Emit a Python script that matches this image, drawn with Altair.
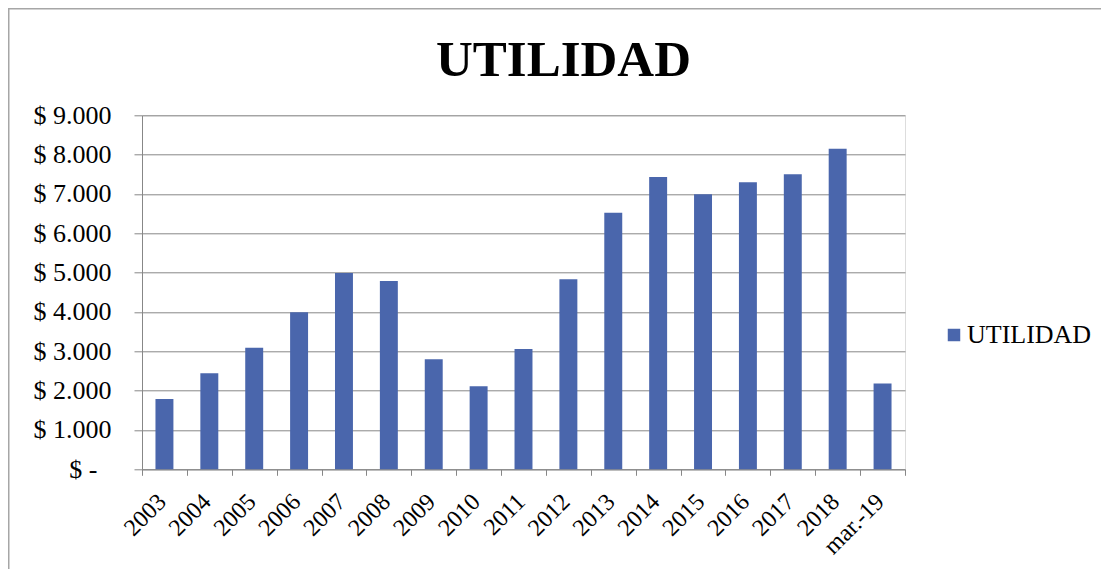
import altair as alt
import pandas as pd

categories = ["2003", "2004", "2005", "2006", "2007", "2008", "2009", "2010", "2011",
              "2012", "2013", "2014", "2015", "2016", "2017", "2018", "mar.-19"]
values = [1790, 2440, 3090, 3990, 4990, 4790, 2800, 2110, 3060,
          4830, 6520, 7430, 6990, 7300, 7500, 8150, 2180]
series_name = "UTILIDAD"
y_ticks = [0, 1000, 2000, 3000, 4000, 5000, 6000, 7000, 8000, 9000]

df = pd.DataFrame({"cat": categories, "val": values, "serie": [series_name] * len(categories)})
legend_df = pd.DataFrame({"serie": [series_name]})

FONT = "Liberation Serif"
BLUE = "#4a66ac"
GRID = "#878787"

W, H = 763, 354
PAD_L, PAD_T = 134, 107.3

color_scale = alt.Scale(domain=[series_name], range=[BLUE])

bars = alt.Chart(df).mark_bar(width=alt.RelativeBandSize(0.4)).encode(
    x=alt.X("cat:N", sort=categories, title=None,
            scale=alt.Scale(paddingInner=0, paddingOuter=0),
            axis=alt.Axis(labelAngle=-45, labelAlign="right", labelBaseline="top",
                          labelFont=FONT, labelFontSize=24, labelColor="black",
                          labelPadding=14, labelOffset=-11, tickBand="extent", tickSize=6,
                          tickColor=GRID, domainColor=GRID, grid=False,
                          labelOverlap=False)),
    y=alt.Y("val:Q", title=None,
            scale=alt.Scale(domain=[0, 9000], nice=False),
            axis=alt.Axis(values=y_ticks, tickSize=8, tickColor=GRID, domainColor=GRID,
                          gridColor=GRID, gridWidth=1, labelFont=FONT, labelFontSize=26,
                          labelColor="black",
                          labelPadding={"condition": {"test": "datum.value === 0", "value": 37}, "value": 23},
                          labelExpr="datum.value == 0 ? '$ -' : '$ ' + replace(format(datum.value, ',.0f'), ',', '.')")),
    color=alt.Color("serie:N", scale=color_scale, legend=None),
)

# legend (symbol + label) built from the series name
legend_sym = alt.Chart(legend_df).mark_square(size=156, opacity=1).encode(
    x=alt.value(812), y=alt.value(219.7),
    color=alt.Color("serie:N", scale=color_scale, legend=None),
)
legend_txt = alt.Chart(legend_df).mark_text(
    font=FONT, fontSize=26, color="black", align="left", baseline="alphabetic"
).encode(x=alt.value(825), y=alt.value(227.6), text="serie:N")

frame = alt.Chart(pd.DataFrame({"f": [0]})).mark_rect(
    fill=None, stroke="#a6a6a6", strokeWidth=2, clip=False
).encode(
    x=alt.value(-PAD_L + 0.5), x2=alt.value(1300),
    y=alt.value(-PAD_T + 0.5), y2=alt.value(800),
)

chart = alt.layer(frame, bars, legend_sym, legend_txt).properties(
    width=W, height=H,
    title=alt.TitleParams("UTILIDAD", font=FONT, fontSize=51, fontWeight="bold",
                          color="black", anchor="middle", frame="group", dx=40, dy=51,
                          baseline="alphabetic", offset=-69),
    autosize=alt.AutoSizeParams(type="none"),
    padding={"left": PAD_L, "top": PAD_T, "right": 196, "bottom": 100},
).configure_view(stroke=None).configure(background="white", font=FONT)

chart.save("out.html", embed_options={"renderer": "svg", "actions": False})
